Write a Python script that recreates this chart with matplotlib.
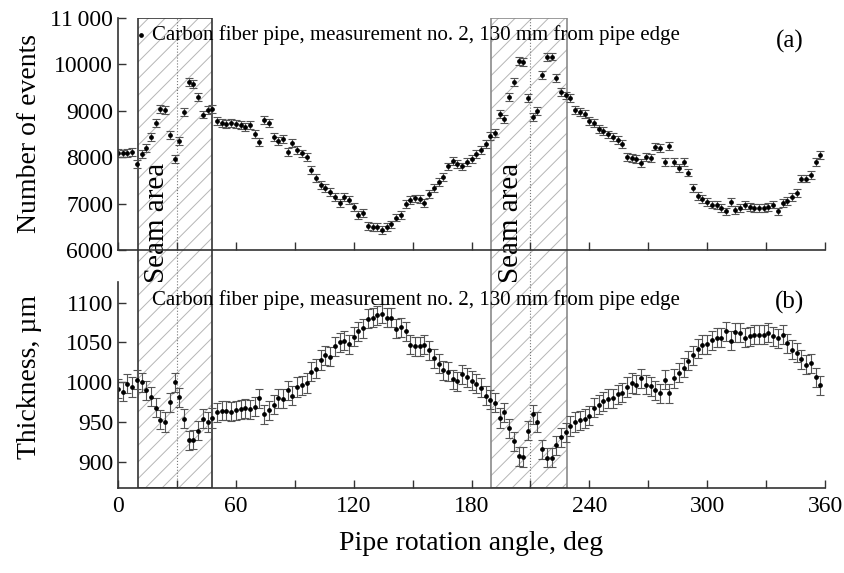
import numpy as np
import matplotlib
matplotlib.use("Agg")
import matplotlib.pyplot as plt
from matplotlib.patches import Rectangle

plt.rcParams["font.family"] = ["Liberation Serif", "DejaVu Serif"]
plt.rcParams["hatch.linewidth"] = 0.7

# ── Data ─────────────────────────────────────────────────────────────────────
# measurement grid: one point every 2.4 deg of pipe rotation
angle = np.arange(150) * 2.4

events = [
    8100, 8080, 8100, 8120, 7850, 8060, 8190, 8440, 8730, 9040,
    9010, 8480, 7960, 8350, 8970, 9630, 9570, 9300, 8920, 9020,
    9040, 8780, 8730, 8720, 8730, 8720, 8690, 8660, 8690, 8500,
    8330, 8800, 8730, 8440, 8350, 8400, 8120, 8300, 8150, 8080,
    8010, 7720, 7560, 7400, 7330, 7250, 7150, 7010, 7150, 7080,
    6930, 6750, 6790, 6520, 6500, 6500, 6430, 6500, 6550, 6700,
    6750, 7000, 7080, 7110, 7100, 7020, 7200, 7330, 7470, 7580,
    7800, 7910, 7850, 7800, 7900, 7960, 8060, 8160, 8290, 8450,
    8520, 8940, 8830, 9300, 9630, 10080, 10060, 9280, 8870, 9000,
    9770, 10160, 10170, 9700, 9400, 9330, 9280, 9020, 8980, 8930,
    8780, 8730, 8600, 8560, 8490, 8430, 8370, 8290, 8010, 7980,
    7960, 7870, 8010, 7990, 8230, 8190, 7900, 8240, 7900, 7760,
    7900, 7670, 7330, 7160, 7090, 7040, 6980, 6970, 6900, 6830,
    7030, 6860, 6900, 6970, 6930, 6910, 6910, 6910, 6920, 6980,
    6830, 7010, 7060, 7150, 7220, 7540, 7540, 7610, 7900, 8050,
]
events_err = 85

thickness = [
    992, 988, 998, 994, 1003, 1000, 990, 982, 968, 953,
    950, 975, 1000, 981, 954, 927, 928, 939, 954, 950,
    955, 962, 964, 964, 963, 965, 966, 967, 966, 969,
    980, 960, 965, 972, 980, 979, 990, 983, 994, 996,
    999, 1013, 1017, 1028, 1034, 1032, 1045, 1050, 1052, 1048,
    1057, 1064, 1068, 1080, 1081, 1084, 1086, 1081, 1081, 1067,
    1069, 1064, 1047, 1045, 1045, 1047, 1040, 1030, 1023, 1015,
    1013, 1004, 1001, 1010, 1006, 1002, 998, 993, 983, 978,
    974, 955, 962, 942, 926, 907, 906, 939, 960, 950,
    916, 905, 905, 921, 931, 937, 945, 950, 952, 954,
    958, 968, 972, 976, 979, 980, 985, 987, 994, 999,
    997, 1005, 997, 995, 990, 986, 1003, 986, 1005, 1012,
    1018, 1027, 1034, 1042, 1047, 1048, 1053, 1056, 1056, 1064,
    1052, 1063, 1062, 1056, 1058, 1060, 1060, 1060, 1062, 1058,
    1055, 1060, 1049, 1041, 1037, 1029, 1022, 1024, 1006, 996,
]
thickness_err = 12

# seam areas (deg): start, end, centre line
seams = [(10, 48, 30), (190, 228.5, 210)]
seam_edge = ["#333333", "#8a8a8a"]

label_text = "Carbon fiber pipe, measurement no. 2, 130 mm from pipe edge"

assert len(events) == len(angle) and len(thickness) == len(angle)

# ── Figure ────────────────────────────────────────────────────────────────────
fig = plt.figure(figsize=(8.44, 5.73), dpi=100)

left, width = 0.1398, 0.8377
overlay = fig.add_axes([left, 0.1483, width, 0.8202], zorder=0)
ax1 = fig.add_axes([left, 0.5637, width, 0.4049], zorder=1)
ax2 = fig.add_axes([left, 0.1483, width, 0.3595], zorder=1)

# hatched seam rectangles spanning both panels
overlay.set_xlim(0, 360)
overlay.set_ylim(0, 1)
overlay.axis("off")
for (x0, x1, xc), ec in zip(seams, seam_edge):
    overlay.add_patch(Rectangle((x0, 0), x1 - x0, 1, facecolor="none",
                                edgecolor="#b5b5b5", hatch="//", lw=0))
    overlay.add_patch(Rectangle((x0, 0), x1 - x0, 1, facecolor="none",
                                edgecolor=ec, lw=1.2))
    overlay.plot([xc, xc], [0, 1], ls=":", color="#777777", lw=0.8)
    overlay.text((x0 + xc) / 2, 0.565, "Seam area", rotation=90,
                 ha="center", va="center", fontsize=21)

err_kw = dict(fmt="o", ms=2.4, color="black", ecolor="#555555",
              elinewidth=0.8, capsize=3, capthick=0.8)

ax1.errorbar(angle, events, yerr=events_err, **err_kw)
ax2.errorbar(angle, thickness, yerr=thickness_err, **err_kw)

ax1.set_ylim(6000, 11000)
ax1.set_yticks(range(6000, 11001, 1000))
ax1.set_yticklabels(["6000", "7000", "8000", "9000", "10000", "11\u2009000"])
ax2.set_ylim(867, 1126)
ax2.set_yticks(range(900, 1101, 50))

for ax in (ax1, ax2):
    ax.patch.set_alpha(0)
    ax.set_xlim(0, 360)
    ax.set_xticks(range(0, 361, 60))
    ax.set_xticks(range(30, 361, 60), minor=True)
    ax.spines[["top", "right"]].set_visible(False)
    for s in ("left", "bottom"):
        ax.spines[s].set_color("#333333")
        ax.spines[s].set_linewidth(1.2)
    ax.tick_params(which="both", direction="in", length=6, width=1,
                   color="#333333", labelsize=17)
    ax.tick_params(axis="x", pad=6)

ax1.tick_params(axis="x", labelbottom=False)

ax1.set_ylabel("Number of events", fontsize=20)
ax1.yaxis.set_label_coords(-0.107, 0.5)
ax2.set_ylabel("Thickness, µm", fontsize=20)
ax2.yaxis.set_label_coords(-0.107, 0.54)
ax2.set_xlabel("Pipe rotation angle, deg", fontsize=20, labelpad=10)

# legend-like captions
ax1.plot([0.033], [0.927], "o", ms=2.4, color="black", transform=ax1.transAxes)
ax1.text(0.048, 0.927, label_text, transform=ax1.transAxes,
         fontsize=15, va="center")
ax1.text(0.95, 0.897, "(a)", transform=ax1.transAxes, fontsize=18,
         ha="center", va="center")
ax2.text(0.048, 0.913, label_text, transform=ax2.transAxes,
         fontsize=15, va="center")
ax2.text(0.95, 0.903, "(b)", transform=ax2.transAxes, fontsize=18,
         ha="center", va="center")

fig.savefig("out.png", dpi=100)
